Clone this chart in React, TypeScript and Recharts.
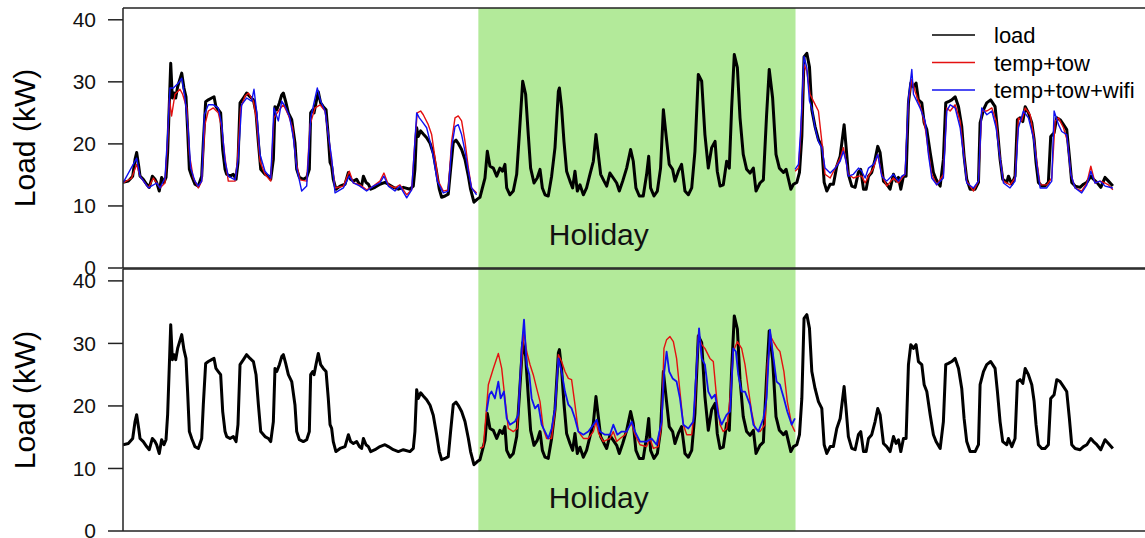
import React from "react";
import {
  LineChart,
  Line,
  XAxis,
  YAxis,
  ReferenceArea,
  ReferenceLine,
  ReferenceDot,
  Legend,
} from "recharts";

// time axis in hours from the first sample (4 weeks, hourly meter data)
const HOURS_MAX = 696;
const Y_MAX = 41.9;
const Y_TICKS = [0, 10, 20, 30, 40];
const HOLIDAY: [number, number] = [242, 458];

const FONT = "'Liberation Sans', Arial, Helvetica, sans-serif";
const GREEN = "#b3ea9a";
const RED = "#e41010";
const BLUE = "#1010f0";

// [hour, kW]
const load: [number, number][] = [
  [0, 13.8], [3.6, 14], [6.6, 14.8], [8.2, 17.5], [9.3, 18.6], [10.7, 16.4], [11.6, 14.8], [13.8, 14.3],
  [16.1, 13.5], [17.9, 13], [20, 14.8], [21.8, 14.3], [22.9, 13.8], [24.7, 12.4], [26.3, 14.6], [27.9, 13.8],
  [29.3, 14.6], [30.4, 18.6], [32.5, 33], [33.6, 27.4], [34.7, 28.2], [35.9, 27.4], [37.2, 29.2], [40, 31.4],
  [41.5, 29], [42.9, 27.6], [44, 22.3], [45.2, 15.9], [46.8, 14.8], [49, 13.5], [51.3, 13.2], [53.6, 14.8],
  [54.7, 20.2], [56.3, 26.8], [58.1, 27.1], [60.4, 27.4], [62, 27.6], [63.3, 26], [64.9, 25.5], [66.5, 25],
  [67.9, 19.1], [69.5, 15.9], [70.6, 15.1], [72.9, 14.8], [75.1, 15.1], [77, 14.3], [78.3, 17], [79.7, 26.6],
  [82, 27.4], [84.2, 28.2], [86.5, 27.6], [88.8, 27.1], [90.6, 25], [92.2, 20.2], [93.8, 15.9], [96.7, 15.1],
  [99, 14.8], [100.6, 14.3], [102.4, 17.5], [103.5, 26], [104.7, 25.5], [106.5, 26.6], [108.1, 27.9], [109.2, 28.2],
  [110.8, 26.8], [112.6, 25], [114.9, 23.9], [117.1, 20.2], [118.3, 15.9], [120.1, 14.6], [122.8, 14.3], [125.1, 14.6],
  [126.9, 15.9], [127.8, 25], [129.2, 25.5], [130.1, 25], [131.4, 26.6], [133, 28.4], [134.6, 26.6], [136.4, 26],
  [138.3, 25.5], [139.8, 21.2], [141, 17], [142.1, 16.4], [143.2, 14.3], [145, 12.7], [147.8, 13.2], [151.2, 13.5],
  [153.5, 15.4], [155, 14.3], [156.9, 14], [159.1, 14.3], [161, 13.5], [162.5, 13.2], [163.7, 14.8], [165.5, 13.8],
  [167.1, 13.5], [168.7, 12.7], [171.6, 13], [175, 13.5], [178.4, 13.8], [180.7, 13.5], [184.1, 13], [187.5, 12.7],
  [190.9, 13], [195.4, 12.7], [197.7, 13.2], [198.8, 15.9], [200, 22.6], [201.1, 21.2], [202.7, 22.1], [204.5, 21.6],
  [206.8, 21], [209.1, 20.1], [211.3, 18.5], [213.6, 15.4], [215.4, 12.7], [217, 11.4], [219.3, 11.6], [221.5, 11.9],
  [223.1, 15.9], [224.9, 20.2], [226.8, 20.6], [228.3, 20.1], [230.6, 19.1], [232.9, 17.5], [235.2, 14.8], [236.7, 12.7],
  [239, 10.6], [241.3, 11.1], [243.1, 11.4], [246.5, 14.5], [248.1, 18.8], [249.9, 16.4], [252.2, 16.1], [254.5, 14.8],
  [256.7, 16.1], [258.5, 15.6], [260.1, 16.7], [261.3, 12.9], [263.5, 11.8], [265.8, 12.4], [268.1, 15.1], [269.9, 21.5],
  [272.2, 30.1], [274.2, 28], [276, 21.5], [277.6, 16.1], [279.9, 13.7], [282.1, 14.5], [284, 15.9], [285.6, 12.9],
  [287.4, 11.8], [289.6, 11.6], [291.9, 14.8], [294.2, 19.4], [296.5, 28.5], [297.2, 29], [298.7, 25.8], [300.3, 20.4],
  [302.1, 15.6], [304.4, 14], [306.2, 12.9], [307.8, 15.6], [309.4, 12.4], [311.2, 13.4], [313.5, 11.8], [315.7, 12.9],
  [318, 15.1], [320.3, 17.2], [322.1, 21.5], [323.7, 18.3], [325.3, 15.1], [327.6, 14], [329.4, 13.2], [331.6, 15.3],
  [333.9, 14.5], [336.2, 13.7], [338, 12.4], [340.3, 14], [343, 16.1], [345.7, 19.1], [347.5, 17.2], [349.3, 12.9],
  [351.6, 11.6], [354.3, 11.6], [356.6, 15.1], [358, 18], [359.3, 12.9], [361.6, 11.6], [363.9, 12.4], [366.1, 16.1],
  [368, 25.5], [369.8, 21.5], [372, 16.7], [374.3, 15.9], [375.9, 14], [378.2, 15.6], [380.4, 16.7], [382.7, 12.4],
  [385, 11.8], [387.3, 12.9], [389.5, 18.8], [391.8, 31.2], [394.1, 30.1], [396.3, 21.5], [398.6, 16.1], [400.9, 19.4],
  [403.2, 20.4], [404.7, 15.6], [406.6, 13.2], [408.8, 13.4], [411.1, 17.2], [412.9, 16.1], [414.5, 25.8], [416.3, 34.4],
  [418.4, 32.3], [420.2, 24.2], [422.4, 18.3], [424.7, 15.9], [427, 15.3], [429.3, 16.1], [431.1, 12.4], [433.8, 13.7],
  [436.1, 14.2], [438.3, 24.7], [440.1, 32], [442.4, 27.4], [444.7, 18.3], [447, 16.1], [449.8, 15.4], [451.6, 15.9],
  [453.2, 14.3], [454.8, 12.7], [456.6, 13.5], [458.9, 13.8], [460.7, 15.4], [462.3, 21.2], [463.8, 34], [465.7, 34.6],
  [467.5, 32.4], [469.1, 25.5], [471.3, 22.8], [473.6, 20.7], [475.9, 19.6], [477.5, 13.8], [479.3, 12.4], [481.6, 13.5],
  [483.8, 13.5], [486.1, 16.4], [488.4, 18], [491.1, 23.1], [492.4, 19.6], [494, 15.1], [496.3, 13.2], [498.6, 13],
  [500.8, 15.4], [502.4, 15.9], [504.3, 12.7], [506.1, 12.7], [507.7, 14.8], [509.9, 15.4], [512.2, 17.5], [514, 19.6],
  [515.6, 18.6], [517.9, 14], [520.1, 13.5], [522.4, 12.7], [524.7, 15.1], [526.5, 14], [528.1, 14.6], [529.7, 12.7],
  [531.5, 14.8], [533.3, 14.8], [534.9, 26.6], [536.5, 29.8], [538.3, 29.2], [540.1, 29.8], [541.7, 27.1], [544, 26.6],
  [545.6, 23.4], [547.4, 22.3], [549.7, 18.6], [551.9, 15.4], [553.7, 14.3], [556.5, 13.2], [558.7, 17.5], [560.3, 26.6],
  [562.1, 26.8], [564.4, 27.1], [566.7, 27.6], [569, 26], [571.2, 22.8], [572.8, 18], [574.6, 14.3], [576.9, 12.7],
  [580.3, 12.7], [582.6, 13.8], [583.7, 23.4], [586, 25.5], [588.2, 26.6], [590.9, 27.1], [593.9, 26], [595.5, 22.3],
  [597.3, 17.5], [599.1, 14.3], [601.9, 13.8], [603, 14.8], [605.3, 13.5], [607.5, 14.8], [609.1, 23.9], [610.9, 24.2],
  [612.8, 23.6], [614.4, 26], [616.6, 25], [618.9, 23.4], [620.5, 20.7], [621.8, 17], [623.4, 13.8], [625.7, 13.2],
  [627.9, 13.2], [630.2, 13.8], [631.8, 21.2], [634.1, 21.8], [635.9, 24.2], [638.2, 23.9], [640.5, 23.1], [642.7, 22.3],
  [644.5, 18], [646.1, 13.8], [648.4, 13.2], [651.8, 13], [654.1, 13.5], [656.4, 13.8], [659.1, 14.8], [660.9, 14.3],
  [663.2, 13.8], [665.9, 13], [668.8, 14.6], [671.1, 14], [674.1, 13.2],
];

// temp+tow model, outside the holiday (top panel)
const tempTowBefore: [number, number][] = [
  [0, 13.7], [5.9, 14.5], [9.3, 16.7], [11.6, 14.8], [17.3, 12.9], [20.7, 14.5], [25.2, 12.9], [28.6, 13.7],
  [30.4, 20.4], [31.6, 27.4], [33.1, 24.5], [35.4, 28], [38.8, 28.8], [40.6, 28], [43.4, 25.8], [45.2, 18.3],
  [47.9, 14.5], [51.3, 12.9], [53.6, 14], [55.8, 23.1], [58.1, 25.3], [61.5, 25.8], [64.9, 25], [67.2, 22.6],
  [69.5, 17.7], [71.7, 14], [76.3, 14], [77.9, 17.2], [80.1, 25.8], [83.1, 27.7], [85.4, 28.2], [88.8, 26.9],
  [91, 23.7], [93.3, 17.2], [96.7, 15.1], [100.6, 14], [102.8, 24.2], [105.8, 25.3], [109.2, 26.3], [112.6, 24.7],
  [115.5, 22.6], [117.8, 17.2], [120.5, 14.2], [125.1, 14], [127.4, 23.1], [130.8, 25.8], [134.2, 26.3], [137.6, 25.3],
  [139.8, 21.5], [142.1, 17.2], [144.4, 12.9], [150.1, 13.2], [154.1, 15.6], [156.9, 13.7], [161.4, 13.4], [165.9, 12.6],
  [170.5, 13.2], [175, 14], [177.7, 15.3], [180.7, 13.4], [185.2, 12.9], [188.6, 13.4], [193.2, 11.8], [196.6, 12.6],
  [198.8, 20.4], [200.4, 25], [202.7, 25.3], [204.5, 24.7], [207.9, 23.1], [210.2, 21.5], [212.5, 17.7], [214.7, 14],
  [218.1, 12.4], [221.5, 12.6], [223.8, 20.4], [226.1, 24.2], [228.3, 24.5], [230.6, 23.7], [232.9, 20.4], [235.2, 16.1],
  [237.4, 12.9], [240.8, 12.1],
];
const tempTowAfter: [number, number][] = [
  [457.7, 15.6], [460, 16.1], [461.6, 21.5], [463.8, 32.8], [465.7, 31.7], [467.9, 28], [470.2, 26.9], [473.6, 25.3],
  [475.9, 20.4], [478.1, 15.1], [481.6, 14.5], [485, 16.1], [488.4, 17.7], [490.6, 19.4], [492.4, 17.2], [494, 15.1],
  [497.4, 14.5], [500.9, 14.8], [503.1, 14.8], [505.4, 13.7], [507.7, 14.8], [511.1, 16.1], [514, 18.3], [516.7, 15.1],
  [520.1, 13.2], [524.7, 14.5], [528.1, 13.7], [530.4, 14.5], [532.6, 15.1], [534.9, 26.9], [537.2, 30.4], [539.4, 28.5],
  [541.7, 26.9], [544, 25.3], [546.3, 22.6], [548.5, 18.8], [550.8, 15.1], [554.2, 13.4], [558.7, 15.1], [561, 25.8],
  [563.3, 25.3], [566.7, 26.3], [570.1, 23.7], [572.4, 18.8], [574.6, 14], [579.2, 12.4], [582.6, 14], [584.8, 25.3],
  [588.3, 25.3], [591.7, 25.8], [594.6, 23.7], [597.3, 17.7], [599.6, 14], [604.1, 13.4], [607.5, 14.5], [609.8, 24.2],
  [612.1, 23.7], [614.4, 25.8], [617.8, 24.7], [620, 21.5], [622.3, 17.2], [624.6, 13.4], [629.1, 13.4], [632.5, 14.5],
  [634.8, 23.7], [637.1, 24.2], [640.5, 22.6], [643.2, 20.4], [645.5, 15.1], [648.4, 12.9], [652.9, 12.4], [656.4, 13.7],
  [659.1, 16.4], [662, 13.7], [665.4, 14], [668.8, 13.7], [671.1, 13.4], [674.1, 12.6],
];

// temp+tow+wifi model, outside the holiday (top panel)
const wifiBefore: [number, number][] = [
  [0, 13.7], [9.3, 17.7], [11.6, 14.8], [17.3, 12.9], [22.9, 13.7], [25.2, 12.9], [28.6, 14.5], [30.4, 21.5],
  [32, 29], [34.3, 29], [37.7, 29.8], [40, 30.6], [42.2, 27.4], [44.5, 22], [46.1, 16.1], [49, 14],
  [51.3, 13.2], [53.6, 14], [55.4, 24.7], [58.1, 26.3], [61.5, 26.3], [64.9, 25.8], [67.2, 23.1], [69.5, 17.2],
  [71.7, 14.8], [76.3, 14.2], [78.5, 17.7], [80.8, 26.3], [84.2, 27.4], [87.6, 26.9], [89.2, 28.8], [91, 25.3],
  [93.3, 18.3], [96.7, 15.6], [100.6, 14.5], [102.8, 25.8], [105.8, 23.7], [108.1, 26.9], [110.3, 26.1], [113.3, 24.5],
  [116, 21], [118.3, 16.1], [121.7, 12.4], [125.1, 13.2], [127.8, 24.2], [130.8, 27.4], [132.3, 29], [134.6, 26.9],
  [137.6, 25.3], [139.8, 21.5], [142.1, 17.7], [144.4, 12.1], [150.1, 12.9], [154.1, 14.8], [156.9, 13.7], [161.4, 13.2],
  [165.9, 12.4], [170.5, 13.2], [175, 13.7], [177.7, 14.8], [180.7, 13.2], [185.2, 12.4], [188.6, 13.2], [193.2, 11.3],
  [196.6, 12.6], [198.8, 20.4], [200, 25], [201.8, 24.2], [203.4, 23.7], [206.8, 22.6], [209.1, 20.4], [211.3, 18],
  [214, 14], [218.1, 12.1], [221.5, 12.4], [223.8, 19.4], [226.1, 22.8], [228.3, 23.1], [230.6, 21.5], [232.9, 18.8],
  [235.2, 15.6], [237.4, 12.9], [240.8, 11.8],
];
const wifiAfter: [number, number][] = [
  [457.7, 15.9], [460, 16.7], [461.6, 22.6], [463.8, 34.1], [465.7, 32.3], [467.5, 26.9], [469.1, 25.8], [471.3, 22.6],
  [473.6, 20.4], [475.9, 19.4], [478.1, 16.1], [481.6, 15.3], [485, 16.1], [488.4, 17.2], [490.6, 18.8], [492.4, 17.2],
  [494, 14.8], [497.4, 15.1], [500.9, 16.1], [503.1, 15.6], [505.4, 14.5], [507.7, 16.1], [511.1, 16.7], [514, 18.3],
  [516.7, 14.8], [520.1, 14], [524.7, 15.1], [528.1, 14], [530.4, 14.8], [532.6, 15.1], [534.9, 27.4], [537.2, 32],
  [538.3, 28], [540.6, 26.9], [542.8, 25.8], [546.3, 23.7], [548.5, 18.3], [550.8, 14.5], [554.2, 13.4], [558.7, 14.5],
  [561, 25.3], [563.3, 26.3], [566.7, 25.8], [570.1, 22.6], [572.4, 18.3], [574.6, 13.7], [579.2, 12.9], [582.6, 14],
  [584.8, 25.8], [588.3, 24.7], [591.7, 25.3], [594.6, 22.6], [597.3, 17.7], [599.6, 13.7], [604.1, 12.9], [607.5, 14],
  [609.8, 22.6], [613.2, 25.3], [616.6, 24.2], [620, 21], [622.3, 16.7], [624.6, 12.9], [629.1, 12.9], [632.5, 14],
  [634.1, 25.3], [637.1, 23.1], [639.3, 22], [642.7, 21.5], [645.5, 15.1], [648.4, 12.9], [652.9, 12.1], [656.4, 13.4],
  [659.1, 15.6], [662, 13.7], [665.4, 14], [668.8, 13.2], [674.1, 12.9],
];

// predictions over the holiday (bottom panel)
const tempTowHoliday: [number, number][] = [
  [243.1, 13.2], [245.4, 13.5], [247.2, 18.6], [248.8, 23.4], [252.2, 26], [255.6, 28.4], [257.9, 26], [260.1, 21.2],
  [262.4, 16.4], [265.8, 15.9], [268.5, 16.4], [270.3, 23.4], [273.1, 31.9], [274.9, 28.7], [277.2, 26.6], [279.4, 25],
  [281.7, 22.8], [284, 20.7], [286.2, 16.4], [288.5, 14.8], [291.9, 14.8], [294.2, 19.1], [296.5, 28.2], [298.7, 27.1],
  [301, 25.5], [303.3, 24.4], [305.5, 24.2], [307.8, 20.2], [310.1, 15.9], [313.5, 14.8], [316.9, 14.8], [320.3, 15.9],
  [322.1, 17.5], [323.9, 15.6], [327.1, 14.3], [331.6, 14.8], [333.9, 15.9], [336.2, 14.3], [338.5, 14.8], [341.9, 15.4],
  [344.1, 16.4], [346.4, 17.2], [348.7, 15.4], [352.1, 13.8], [356.6, 13.5], [358.9, 14.8], [361.2, 13.2], [364.6, 13.5],
  [366.8, 17], [368.4, 29.2], [370.2, 30.6], [372.5, 31.1], [374.8, 30.3], [377, 27.6], [379.3, 22.3], [381.6, 17],
  [383.9, 15.4], [387.3, 15.4], [389.5, 20.2], [391.8, 31.4], [394.1, 29.8], [396.3, 29.2], [399.7, 27.6], [402, 27.1],
  [404.3, 21.2], [406.6, 17], [408.8, 15.9], [411.1, 16.4], [413.4, 21.2], [415.6, 28.7], [418.4, 30.3], [421.3, 29.2],
  [423.6, 26.6], [425.8, 22.8], [428.1, 19.1], [430.4, 16.4], [433.8, 15.9], [437.2, 17], [438.8, 26.6], [441.1, 31.1],
  [442.9, 30.3], [445.6, 29.2], [447.4, 28.7], [450.1, 25.5], [452.4, 20.7], [455.4, 17], [457.6, 15.9],
];
const wifiHoliday: [number, number][] = [
  [247.6, 19.1], [249.5, 21.8], [251, 22.3], [253.3, 21.2], [255.6, 23.9], [257.2, 21.2], [259.4, 22.3], [261.3, 18],
  [263.5, 17], [266.9, 17.5], [269.2, 18.6], [271.5, 29.2], [273.1, 33.8], [274.9, 26.6], [276.7, 25], [278.3, 21.2],
  [280.6, 19.6], [282.8, 20.2], [285.1, 17], [287.4, 15.9], [289.6, 14.8], [291.9, 16.4], [294.2, 19.6], [296.5, 27.6],
  [298.7, 25.5], [301, 22.3], [303.3, 20.2], [305.5, 19.6], [307.8, 18], [310.1, 15.9], [313.5, 15.4], [316.9, 15.9],
  [320.3, 17], [322.6, 17.8], [324.8, 15.9], [328.2, 15.4], [331.6, 15.4], [333.9, 17], [336.6, 15.4], [339.6, 15.9],
  [343, 15.9], [346.4, 17.5], [348.7, 15.9], [352.1, 14.3], [356.6, 14.3], [360, 14.8], [363.4, 13.8], [366.8, 17.5],
  [368.4, 25], [370.2, 28.7], [372, 25.5], [374.3, 24.4], [377, 23.9], [379.3, 21.2], [381.6, 17], [385, 16.4],
  [388.4, 17.5], [390.7, 26.6], [392.3, 32.4], [394.1, 27.6], [396.3, 26.6], [398.6, 22.3], [400.9, 21.2], [403.2, 21.8],
  [405.4, 18.6], [407.7, 17], [411.1, 18.6], [413.4, 19.1], [415.6, 29.2], [417.4, 28.7], [419, 25], [421.3, 22.3],
  [423.6, 22.3], [427, 20.2], [429.3, 17], [432.7, 15.9], [436.1, 18], [438.3, 21.2], [440.6, 32.2], [442.4, 28.7],
  [445.1, 23.9], [447.4, 23.4], [450.1, 21.2], [452.4, 19.1], [455.4, 17], [457.6, 18],
];

const legendItems = [
  { name: "load", color: "#000" },
  { name: "temp+tow", color: RED },
  { name: "temp+tow+wifi", color: BLUE },
];

const pts = (arr: [number, number][]) => arr.map(([t, v]) => ({ t, v }));

const YLabel = (props: any) => {
  const vb = props.viewBox || {};
  const cx = 35;
  const cy = vb.y + vb.height / 2;
  return (
    <text
      x={cx}
      y={cy}
      transform={`rotate(-90 ${cx} ${cy})`}
      textAnchor="middle"
      fontSize={30}
      fontFamily={FONT}
      fill="#000"
    >
      Load (kW)
    </text>
  );
};

const LegendBox = () => (
  <svg width={215} height={82} style={{ overflow: "visible" }}>
    {legendItems.map((item, i) => {
      const y = 13 + i * 27.5;
      return (
        <g key={item.name}>
          <line x1={2} x2={45} y1={y} y2={y} stroke={item.color} strokeWidth={1.5} />
          <text x={64} y={y + 8} fontSize={22} fontFamily={FONT} fill="#000">
            {item.name}
          </text>
        </g>
      );
    })}
  </svg>
);

interface PanelProps {
  top: number;
  height: number;
  margin: { top: number; right: number; bottom: number; left: number };
  showLegend?: boolean;
  children: React.ReactNode;
}

const Panel: React.FC<PanelProps> = ({ top, height, margin, showLegend, children }) => (
  <div style={{ position: "absolute", left: 0, top }}>
    <LineChart width={1145} height={height} margin={margin} style={{ overflow: "visible" }}>
      <ReferenceArea
        x1={HOLIDAY[0]}
        x2={HOLIDAY[1]}
        y1={0}
        y2={Y_MAX}
        fill={GREEN}
        fillOpacity={1}
        stroke="none"
      />
      <XAxis
        type="number"
        dataKey="t"
        domain={[0, HOURS_MAX]}
        allowDataOverflow
        tick={false}
        tickLine={false}
        axisLine={{ stroke: "#222", strokeWidth: 1.5 }}
        height={1}
      />
      <YAxis
        type="number"
        domain={[0, Y_MAX]}
        ticks={Y_TICKS}
        interval={0}
        allowDataOverflow
        width={123}
        tickSize={15}
        tickMargin={12}
        axisLine={{ stroke: "#222", strokeWidth: 1.5 }}
        tickLine={{ stroke: "#222", strokeWidth: 1.5 }}
        tick={{ fill: "#111", fontSize: 21, fontFamily: FONT }}
        label={YLabel}
      />
      <ReferenceLine y={Y_MAX} stroke="#222" strokeWidth={1.5} />
      <ReferenceDot
        x={324}
        y={5.4}
        r={0}
        fill="none"
        stroke="none"
        label={{ value: "Holiday", position: "center", fontSize: 30, fill: "#111", fontFamily: FONT }}
      />
      {children}
      {showLegend && (
        <Legend
          layout="vertical"
          align="center"
          verticalAlign="middle"
          content={() => <LegendBox />}
          wrapperStyle={{ left: 930, top: 22, width: 215, height: 82 }}
        />
      )}
    </LineChart>
  </div>
);

const lineProps = {
  dataKey: "v",
  type: "linear" as const,
  dot: false,
  activeDot: false,
  isAnimationActive: false,
  strokeLinejoin: "round" as const,
};

export default function App() {
  return (
    <div
      style={{
        position: "absolute",
        left: 0,
        top: 0,
        width: 1145,
        height: 538,
        overflow: "hidden",
        background: "#fff",
        fontFamily: FONT,
      }}
    >
      <Panel top={0} height={290} margin={{ top: 8, right: 0, bottom: 21, left: 0 }} showLegend>
        <Line {...lineProps} data={pts(load)} stroke="#000" strokeWidth={3} name="load" />
        <Line {...lineProps} data={pts(tempTowBefore)} stroke={RED} strokeWidth={1.4} name="temp+tow" />
        <Line {...lineProps} data={pts(tempTowAfter)} stroke={RED} strokeWidth={1.4} name="temp+tow " />
        <Line {...lineProps} data={pts(wifiBefore)} stroke={BLUE} strokeWidth={1.4} name="temp+tow+wifi" />
        <Line {...lineProps} data={pts(wifiAfter)} stroke={BLUE} strokeWidth={1.4} name="temp+tow+wifi " />
      </Panel>
      <Panel top={240} height={298} margin={{ top: 29, right: 0, bottom: 6, left: 0 }}>
        <Line {...lineProps} data={pts(load)} stroke="#000" strokeWidth={3} name="load" />
        <Line {...lineProps} data={pts(tempTowHoliday)} stroke={RED} strokeWidth={1.4} name="temp+tow" />
        <Line {...lineProps} data={pts(wifiHoliday)} stroke={BLUE} strokeWidth={1.8} name="temp+tow+wifi" />
      </Panel>
    </div>
  );
}
